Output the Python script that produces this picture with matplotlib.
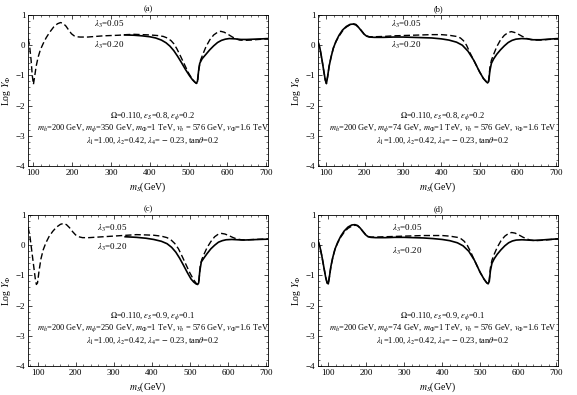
import matplotlib
matplotlib.use("Agg")
import matplotlib.pyplot as plt
from matplotlib.ticker import MultipleLocator

plt.rcParams['font.family'] = 'serif'
plt.rcParams['font.serif'] = ['Liberation Serif', 'DejaVu Serif']
plt.rcParams['mathtext.fontset'] = 'stix'

# --- panel (a) ---
ms_a_dash = [86, 90, 94, 97, 100, 103, 107, 112, 118, 125, 133, 142, 152, 162, 170, 177, 184, 191, 198, 205,
             212, 220, 240, 260, 280, 300, 320, 340, 360, 380, 400, 420, 435, 445, 455, 462, 470, 480, 490,
             500, 510, 517, 521, 524, 527, 531, 537, 545, 555, 565, 575, 583, 592, 602, 612, 622, 632, 645,
             660, 680, 705]
y_a_dash = [0.22, 0.0, -0.5, -1.0, -1.3, -1.05, -0.7, -0.4, -0.15, 0.05, 0.25, 0.43, 0.6, 0.71, 0.75, 0.72,
            0.63, 0.5, 0.38, 0.31, 0.28, 0.27, 0.27, 0.29, 0.31, 0.32, 0.33, 0.35, 0.36, 0.35, 0.34, 0.32,
            0.29, 0.24, 0.15, 0.05, -0.12, -0.38, -0.65, -0.92, -1.13, -1.23, -1.27, -1.15, -0.75, -0.5,
            -0.3, -0.05, 0.18, 0.34, 0.43, 0.46, 0.43, 0.36, 0.28, 0.21, 0.17, 0.16, 0.17, 0.19, 0.21]
ms_a_sol = [335, 360, 380, 400, 415, 430, 442, 452, 462, 472, 482, 492, 502, 510, 516, 520, 523, 526, 529,
            535, 545, 555, 565, 575, 585, 595, 605, 620, 635, 650, 670, 690, 705]
y_a_sol = [0.34, 0.33, 0.31, 0.28, 0.24, 0.17, 0.08, -0.03, -0.18, -0.37, -0.58, -0.8, -1.0, -1.14, -1.22,
           -1.26, -1.2, -0.85, -0.6, -0.45, -0.3, -0.15, -0.02, 0.09, 0.16, 0.2, 0.22, 0.21, 0.19, 0.19,
           0.2, 0.21, 0.22]

# --- panel (b) ---
ms_b_sol = [78, 83, 88, 93, 97, 100, 103, 107, 112, 118, 125, 133, 142, 152, 162, 170, 177, 184, 191, 198,
            205, 212, 225, 250, 275, 300, 325, 350, 375, 400, 420, 440, 455, 470, 485, 500, 510, 517, 521,
            524, 527, 531, 537, 545, 555, 565, 575, 585, 595, 610, 625, 640, 660, 680, 705]
y_b_sol = [0.12, -0.1, -0.45, -0.85, -1.15, -1.27, -1.05, -0.7, -0.4, -0.1, 0.13, 0.33, 0.5, 0.62, 0.69,
           0.7, 0.67, 0.59, 0.48, 0.37, 0.3, 0.27, 0.26, 0.26, 0.27, 0.27, 0.26, 0.25, 0.24, 0.21, 0.17,
           0.1, 0.0, -0.2, -0.5, -0.88, -1.1, -1.2, -1.25, -1.2, -0.85, -0.6, -0.45, -0.3, -0.15, -0.02,
           0.09, 0.16, 0.2, 0.22, 0.21, 0.18, 0.18, 0.2, 0.22]
ms_b_dash = [78, 83, 88, 93, 97, 100, 103, 107, 112, 118, 125, 133, 142, 152, 162, 170, 177, 184, 191, 198,
             205, 212, 225, 250, 275, 300, 325, 350, 375, 400, 420, 440, 450, 458, 466, 475, 485, 500, 510,
             517, 521, 524, 527, 531, 537, 545, 555, 565, 575, 583, 592, 602, 612, 622, 632, 645, 660, 680, 705]
y_b_dash = [0.12, -0.1, -0.45, -0.85, -1.15, -1.27, -1.05, -0.7, -0.4, -0.1, 0.12, 0.3, 0.47, 0.6, 0.68,
            0.71, 0.69, 0.6, 0.49, 0.38, 0.31, 0.28, 0.28, 0.29, 0.31, 0.32, 0.33, 0.34, 0.35, 0.35, 0.33,
            0.29, 0.24, 0.15, 0.0, -0.25, -0.5, -0.88, -1.1, -1.2, -1.25, -1.15, -0.75, -0.5, -0.3, -0.05,
            0.18, 0.33, 0.42, 0.45, 0.42, 0.36, 0.29, 0.23, 0.19, 0.17, 0.17, 0.19, 0.21]

# --- panel (c) ---
ms_c_dash = [75, 80, 85, 90, 94, 97, 100, 104, 109, 115, 122, 130, 140, 150, 160, 168, 176, 184, 192, 200,
             208, 218, 235, 260, 285, 310, 335, 360, 385, 405, 425, 440, 450, 460, 470, 480, 490, 500, 510,
             517, 521, 524, 527, 531, 537, 545, 555, 565, 575, 583, 592, 602, 612, 622, 635, 650, 670, 690, 705]
y_c_dash = [0.6, 0.3, -0.2, -0.7, -1.1, -1.3, -1.25, -0.85, -0.45, -0.15, 0.08, 0.28, 0.46, 0.6, 0.69,
            0.72, 0.68, 0.58, 0.45, 0.34, 0.28, 0.25, 0.25, 0.27, 0.29, 0.31, 0.33, 0.35, 0.34, 0.33, 0.3,
            0.25, 0.18, 0.06, -0.12, -0.38, -0.65, -0.92, -1.15, -1.27, -1.3, -1.15, -0.7, -0.48, -0.3,
            -0.08, 0.12, 0.28, 0.37, 0.39, 0.37, 0.32, 0.26, 0.21, 0.18, 0.18, 0.19, 0.2, 0.21]
ms_c_sol = [330, 360, 385, 405, 425, 440, 452, 463, 473, 483, 493, 503, 510, 516, 520, 523, 526, 530, 537,
            545, 555, 565, 575, 585, 595, 610, 625, 640, 660, 680, 705]
y_c_sol = [0.28, 0.26, 0.23, 0.19, 0.13, 0.05, -0.07, -0.23, -0.43, -0.66, -0.9, -1.12, -1.22, -1.28, -1.3,
           -1.25, -0.85, -0.55, -0.42, -0.28, -0.12, 0.0, 0.1, 0.15, 0.18, 0.19, 0.18, 0.17, 0.18, 0.19, 0.2]

# --- panel (d) ---
ms_d_sol = [73, 78, 83, 88, 93, 97, 100, 103, 107, 112, 118, 125, 133, 142, 152, 162, 170, 177, 184, 191,
            198, 205, 212, 225, 250, 275, 300, 325, 350, 375, 400, 420, 440, 455, 470, 485, 500, 510, 517,
            521, 524, 527, 531, 537, 545, 555, 565, 575, 585, 595, 610, 625, 640, 660, 680, 705]
y_d_sol = [0.15, -0.05, -0.35, -0.7, -1.05, -1.25, -1.28, -1.05, -0.7, -0.4, -0.12, 0.1, 0.3, 0.47, 0.6,
           0.67, 0.68, 0.65, 0.57, 0.46, 0.35, 0.28, 0.26, 0.25, 0.25, 0.26, 0.26, 0.25, 0.24, 0.22, 0.19,
           0.15, 0.08, -0.02, -0.2, -0.5, -0.9, -1.12, -1.24, -1.28, -1.2, -0.85, -0.6, -0.45, -0.3, -0.15,
           -0.02, 0.08, 0.14, 0.17, 0.18, 0.17, 0.16, 0.17, 0.19, 0.21]
ms_d_dash = [73, 78, 83, 88, 93, 97, 100, 103, 107, 112, 118, 125, 133, 142, 152, 162, 170, 177, 184, 191,
             198, 205, 212, 225, 250, 275, 300, 325, 350, 375, 400, 420, 440, 450, 458, 466, 475, 485, 500,
             510, 517, 521, 524, 527, 531, 537, 545, 555, 565, 575, 583, 592, 602, 612, 622, 632, 645, 660,
             680, 705]
y_d_dash = [0.15, -0.05, -0.35, -0.7, -1.05, -1.25, -1.28, -1.05, -0.7, -0.4, -0.12, 0.08, 0.27, 0.43,
            0.56, 0.63, 0.66, 0.65, 0.57, 0.46, 0.36, 0.29, 0.27, 0.27, 0.28, 0.29, 0.3, 0.31, 0.32, 0.32,
            0.32, 0.3, 0.26, 0.21, 0.13, 0.0, -0.22, -0.5, -0.9, -1.12, -1.24, -1.28, -1.15, -0.75, -0.5,
            -0.3, -0.07, 0.15, 0.3, 0.39, 0.42, 0.4, 0.34, 0.27, 0.21, 0.17, 0.15, 0.16, 0.18, 0.21]

titles = ['(a)', '(b)', '(c)', '(d)']
xmins = [86, 78, 75, 73]
eps_S = ['0.8', '0.8', '0.9', '0.9']
eps_phi = ['0.2', '0.2', '0.1', '0.1']
m_phi = ['350', '74', '250', '74']
lab_y = [(0.7, 0.0), (0.7, 0.0), (0.56, -0.06), (0.56, -0.22)]

dash_x = [ms_a_dash, ms_b_dash, ms_c_dash, ms_d_dash]
dash_y = [y_a_dash, y_b_dash, y_c_dash, y_d_dash]
sol_x = [ms_a_sol, ms_b_sol, ms_c_sol, ms_d_sol]
sol_y = [y_a_sol, y_b_sol, y_c_sol, y_d_sol]

fig = plt.figure(figsize=(5.77, 3.95), dpi=100)
W, H = 577.0, 395.0
boxes = [(28, 15), (318, 15), (28, 215), (318, 215)]

for i in range(4):
    x0, y0 = boxes[i]
    ax = fig.add_axes([x0 / W, 1 - (y0 + 151) / H, 240 / W, 151 / H])
    ax.plot(sol_x[i], sol_y[i], color='black', lw=1.2)
    ax.plot(dash_x[i], dash_y[i], color='black', lw=1.0, dashes=(4.5, 2.2))
    ax.set_xlim(xmins[i], 705)
    ax.set_ylim(-4, 1)
    ax.xaxis.set_major_locator(MultipleLocator(100))
    ax.xaxis.set_minor_locator(MultipleLocator(20))
    ax.yaxis.set_major_locator(MultipleLocator(1))
    ax.yaxis.set_minor_locator(MultipleLocator(0.2))
    ax.tick_params(which='both', direction='in', top=True, right=True, labelsize=6.5, pad=2)
    ax.tick_params(which='major', length=3, width=0.5)
    ax.tick_params(which='minor', length=1.5, width=0.4)
    for sp in ax.spines.values():
        sp.set_linewidth(0.6)
    ax.set_title(titles[i], fontsize=6, pad=3)
    ax.set_xlabel(r'$m_S$(GeV)', fontsize=7, labelpad=3)
    ax.set_ylabel(r'Log $Y_\Phi$', fontsize=7, labelpad=2)

    xl = 255 if i in (0, 2) else 268
    ax.text(xl, lab_y[i][0], r'$\lambda_3$=0.05', fontsize=6.5, va='center')
    ax.text(xl, lab_y[i][1], r'$\lambda_3$=0.20', fontsize=6.5, va='center')

    ax.text(0.52, 0.33, r'$\Omega$=0.110, $\epsilon_S$=%s, $\epsilon_\phi$=%s' % (eps_S[i], eps_phi[i]),
            transform=ax.transAxes, fontsize=6, ha='center', va='center')
    ax.text(0.52, 0.25, r'$m_h$=200 GeV, $m_\phi$=%s GeV, $m_\Phi$=1 TeV, $v_h$ = 576 GeV, $v_\Phi$=1.6 TeV'
            % m_phi[i], transform=ax.transAxes, fontsize=6, ha='center', va='center')
    ax.text(0.52, 0.165, r'$\lambda_1$=1.00, $\lambda_2$=0.42, $\lambda_4$= $-$ 0.23, tan$\theta$=0.2',
            transform=ax.transAxes, fontsize=6, ha='center', va='center')

fig.savefig('out.png', dpi=100)
